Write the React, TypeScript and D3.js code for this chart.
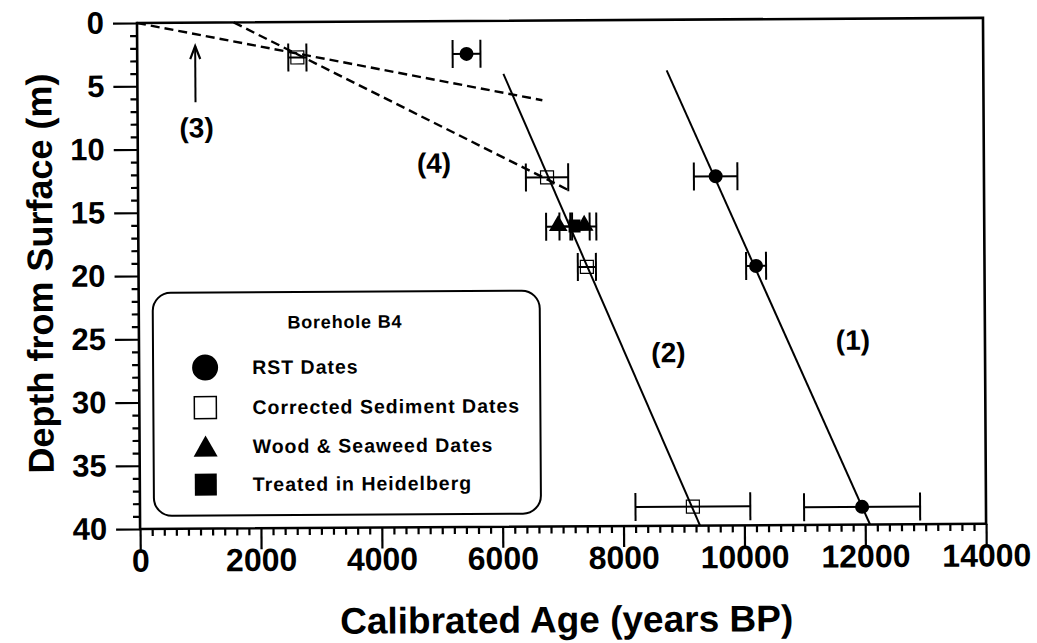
import React, { useEffect, useRef } from 'react';
import * as d3 from 'd3';

// RST dates (filled circles)
const rstAge = [5450, 9560, 10220, 11950];
const rstDepth = [2.6, 12.4, 19.5, 38.6];
const rstErr = [230, 360, 165, 960];

// corrected sediment dates (open squares)
const sedAge = [2650, 6770, 7420, 9150];
const sedDepth = [2.8, 12.4, 19.5, 38.5];
const sedErr = [150, 350, 150, 950];

// wood & seaweed dates (triangles)
const woodAge = [6950, 7380];
const woodDepth = [16.3, 16.3];
const woodErr = [200, 200];

// treated in Heidelberg (filled square)
const heidAge = [7220];
const heidDepth = [16.3];
const heidErr = [250];

// fitted lines (1), (2) and dashed lines (3), (4)
const fit1Age = [8760, 12080];
const fit1Depth = [4.0, 40];
const fit2Age = [6058, 9267];
const fit2Depth = [4.2, 40];
const dash3Age = [0, 6700];
const dash3Depth = [0, 6.3];
const dash4Age = [1600, 7116];
const dash4Depth = [0, 13.4];

const lineLabels = ['(1)', '(2)', '(3)', '(4)'];
const lineLabelAge = [11815, 8760, 975, 4900];
const lineLabelDepth = [25.4, 26.3, 8.3, 11.2];

const arrowAge = 960;
const arrowDepth = [6.3, 1.85];

const xTicks = [0, 2000, 4000, 6000, 8000, 10000, 12000, 14000];
const yTicks = [0, 5, 10, 15, 20, 25, 30, 35, 40];

const legendItems = ['RST Dates', 'Corrected Sediment Dates', 'Wood & Seaweed Dates', 'Treated in Heidelberg'];

const FONT = '"Liberation Sans", Arial, Helvetica, sans-serif';

export default function App() {
  const ref = useRef<SVGSVGElement>(null);

  useEffect(() => {
    const svg = d3.select(ref.current);
    svg.selectAll('*').remove();

    const left = 137,
      top = 23,
      width = 846,
      height = 506;

    const x = d3.scaleLinear().domain([0, 14000]).range([0, width]);
    const y = d3.scaleLinear().domain([0, 40]).range([0, height]);

    // the scan is tilted a little
    const root = svg
      .append('g')
      .attr('transform', `rotate(-0.35 ${left} ${top}) translate(${left},${top})`)
      .style('font-family', FONT)
      .style('font-weight', 'bold');

    // minor ticks
    root
      .append('g')
      .attr('transform', `translate(0,${height})`)
      .call(
        d3.axisBottom(x)
          .tickValues(d3.range(0, 14001, 200).filter(v => v % 2000 !== 0))
          .tickSize(7)
          .tickSizeOuter(0)
          .tickFormat(() => '')
      )
      .call(a => a.select('.domain').remove());
    root
      .append('g')
      .call(
        d3.axisLeft(y)
          .tickValues(d3.range(0, 41, 1).filter(v => v % 5 !== 0))
          .tickSize(7)
          .tickSizeOuter(0)
          .tickFormat(() => '')
      )
      .call(a => a.select('.domain').remove());

    // major ticks + labels
    const xAxis = root
      .append('g')
      .attr('transform', `translate(0,${height})`)
      .call(
        d3.axisBottom(x)
          .tickValues(xTicks)
          .tickFormat(d3.format('d'))
          .tickSize(21)
          .tickPadding(-1)
          .tickSizeOuter(0)
      )
      .call(a => a.select('.domain').remove());
    const yAxis = root
      .append('g')
      .call(
        d3.axisLeft(y)
          .tickValues(yTicks)
          .tickFormat(d3.format('d'))
          .tickSize(24)
          .tickPadding(9)
          .tickSizeOuter(0)
      )
      .call(a => a.select('.domain').remove());

    xAxis.attr('font-size', 32);
    yAxis.attr('font-size', 31);
    [xAxis, yAxis].forEach(a => {
      a.attr('font-family', FONT).attr('font-weight', 'bold');
      a.selectAll('text').attr('fill', '#000');
    });
    root.selectAll('.tick line').attr('stroke', '#000').attr('stroke-width', 2.2);

    // frame
    root
      .append('rect')
      .attr('width', width)
      .attr('height', height)
      .attr('fill', 'none')
      .attr('stroke', '#000')
      .attr('stroke-width', 2.6);

    // axis titles
    root
      .append('text')
      .attr('x', width / 2 + 3)
      .attr('y', height + 106)
      .attr('text-anchor', 'middle')
      .attr('font-size', 37)
      .text('Calibrated Age (years BP)');
    root
      .append('text')
      .attr('transform', `translate(${-86},${height / 2 - 3}) rotate(-90)`)
      .attr('text-anchor', 'middle')
      .attr('font-size', 36)
      .text('Depth from Surface (m)');

    const drawLine = (ages: number[], depths: number[], dashed: boolean) => {
      root
        .append('path')
        .attr(
          'd',
          d3.line<number>()
            .x((_, i) => x(ages[i]))
            .y((_, i) => y(depths[i]))(ages)
        )
        .attr('fill', 'none')
        .attr('stroke', '#000')
        .attr('stroke-width', dashed ? 2.4 : 2)
        .attr('stroke-dasharray', dashed ? '9,5' : null);
    };
    drawLine(dash3Age, dash3Depth, true);
    drawLine(dash4Age, dash4Depth, true);

    // arrow (3)
    root
      .append('line')
      .attr('x1', x(arrowAge))
      .attr('x2', x(arrowAge))
      .attr('y1', y(arrowDepth[0]))
      .attr('y2', y(arrowDepth[1]))
      .attr('stroke', '#000')
      .attr('stroke-width', 2);
    root
      .append('path')
      .attr(
        'd',
        `M${x(arrowAge) - 5},${y(arrowDepth[1]) + 13}L${x(arrowAge)},${y(arrowDepth[1])}L${x(arrowAge) + 5},${y(arrowDepth[1]) + 13}`
      )
      .attr('fill', 'none')
      .attr('stroke', '#000')
      .attr('stroke-width', 2.2);

    // error bars
    const errorBars = (ages: number[], depths: number[], errs: number[]) => {
      ages.forEach((a, i) => {
        const cy = y(depths[i]);
        const x0 = x(a - errs[i]);
        const x1 = x(a + errs[i]);
        const eb = root.append('g').attr('stroke', '#000').attr('stroke-width', 2);
        eb.append('line').attr('x1', x0).attr('x2', x1).attr('y1', cy).attr('y2', cy);
        eb.append('line').attr('x1', x0).attr('x2', x0).attr('y1', cy - 14).attr('y2', cy + 14);
        eb.append('line').attr('x1', x1).attr('x2', x1).attr('y1', cy - 14).attr('y2', cy + 14);
      });
    };
    errorBars(rstAge, rstDepth, rstErr);
    errorBars(sedAge, sedDepth, sedErr);
    errorBars(woodAge, woodDepth, woodErr);
    errorBars(heidAge, heidDepth, heidErr);

    // markers
    rstAge.forEach((a, i) => {
      root.append('circle').attr('cx', x(a)).attr('cy', y(rstDepth[i])).attr('r', 7).attr('fill', '#000');
    });
    sedAge.forEach((a, i) => {
      root
        .append('rect')
        .attr('x', x(a) - 6.5)
        .attr('y', y(sedDepth[i]) - 6.5)
        .attr('width', 13)
        .attr('height', 13)
        .attr('fill', 'none')
        .attr('stroke', '#000')
        .attr('stroke-width', 1.2);
    });
    const tri = d3.symbol().type(d3.symbolTriangle).size(150);
    woodAge.forEach((a, i) => {
      root
        .append('path')
        .attr('d', tri())
        .attr('transform', `translate(${x(a)},${y(woodDepth[i]) - 1})`)
        .attr('fill', '#000');
    });
    heidAge.forEach((a, i) => {
      root
        .append('rect')
        .attr('x', x(a) - 6)
        .attr('y', y(heidDepth[i]) - 7)
        .attr('width', 12)
        .attr('height', 13)
        .attr('fill', '#000');
    });

    drawLine(fit1Age, fit1Depth, false);
    drawLine(fit2Age, fit2Depth, false);

    // line labels
    lineLabels.forEach((t, i) => {
      root
        .append('text')
        .attr('x', x(lineLabelAge[i]))
        .attr('y', y(lineLabelDepth[i]))
        .attr('dy', '0.35em')
        .attr('text-anchor', 'middle')
        .attr('font-size', 28)
        .text(t);
    });

    // legend
    const lg = root.append('g').attr('transform', 'translate(14,270)');
    lg.append('rect')
      .attr('width', 387)
      .attr('height', 223)
      .attr('rx', 18)
      .attr('fill', '#fff')
      .attr('stroke', '#000')
      .attr('stroke-width', 2);
    lg.append('text')
      .attr('x', 192)
      .attr('y', 30)
      .attr('dy', '0.35em')
      .attr('text-anchor', 'middle')
      .attr('font-size', 18)
      .attr('letter-spacing', 0.8)
      .text('Borehole B4');
    const rowY = [75, 115, 154, 192];
    const mx = 52;
    lg.append('circle').attr('cx', mx).attr('cy', rowY[0]).attr('r', 13).attr('fill', '#000');
    lg.append('rect')
      .attr('x', mx - 11)
      .attr('y', rowY[1] - 11)
      .attr('width', 22)
      .attr('height', 22)
      .attr('fill', 'none')
      .attr('stroke', '#000')
      .attr('stroke-width', 1.5);
    lg.append('path')
      .attr('d', `M${mx - 12},${rowY[2] + 10}L${mx},${rowY[2] - 11}L${mx + 12},${rowY[2] + 10}Z`)
      .attr('fill', '#000');
    lg.append('rect')
      .attr('x', mx - 11)
      .attr('y', rowY[3] - 11)
      .attr('width', 22)
      .attr('height', 22)
      .attr('fill', '#000');
    legendItems.forEach((t, i) => {
      lg.append('text')
        .attr('x', 99)
        .attr('y', rowY[i])
        .attr('dy', '0.35em')
        .attr('font-size', 19.5)
        .attr('letter-spacing', 1)
        .text(t);
    });
  }, []);

  return (
    <svg
      ref={ref}
      width={1037}
      height={643}
      style={{ position: 'absolute', left: 0, top: 0, background: '#fff' }}
    />
  );
}
